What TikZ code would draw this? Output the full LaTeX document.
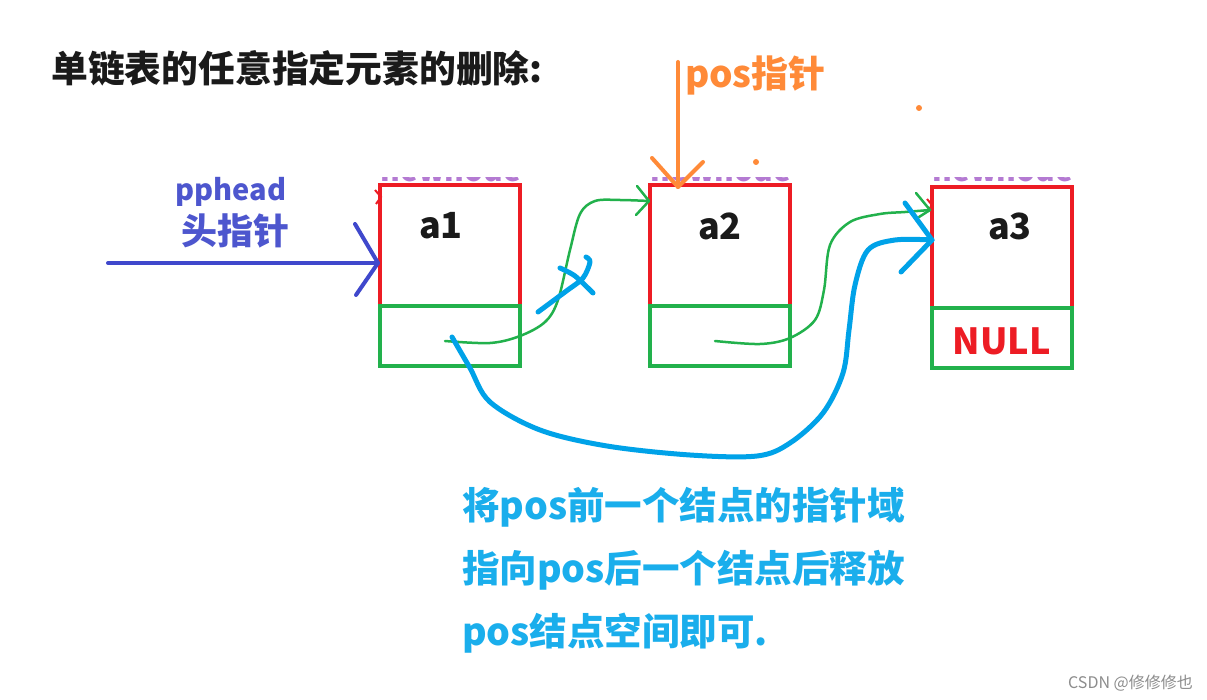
\documentclass[tikz,border=0pt]{standalone}
\usepackage{fontspec}
\setmainfont{Noto Sans CJK SC}
\definecolor{pred}{HTML}{ED1C24}
\definecolor{pgreen}{HTML}{22B14C}
\definecolor{pindigo}{HTML}{3F48CC}
\definecolor{pheadtxt}{HTML}{4D56CE}
\definecolor{pturq}{HTML}{00A2E8}
\definecolor{ptext}{HTML}{1AAEEC}
\definecolor{porange}{HTML}{FF8A38}
\definecolor{ppurple}{HTML}{B47AD2}
\definecolor{ptitle}{HTML}{1A1A1A}
\begin{document}
\begin{tikzpicture}[x=1pt,y=-1pt,
  redbox/.style={draw=pred,line width=4pt,fill=white,minimum width=140pt,minimum height=121pt,inner sep=0pt},
  greenbox/.style={draw=pgreen,line width=4pt,minimum width=140pt,minimum height=60pt,inner sep=0pt},
  val/.style={font=\bfseries\fontsize{36}{40}\selectfont,text=ptitle},
  greenline/.style={draw=pgreen,line width=2.5pt,line cap=round,line join=round},
  blueline/.style={draw=pturq,line width=5pt,line cap=round,line join=round},
  infotext/.style={anchor=west,text=ptext,font=\bfseries\fontsize{37.5}{40}\selectfont,inner sep=0pt}]
\useasboundingbox (0,0) rectangle (1207,700);
\fill[white] (0,0) rectangle (1207,700);

% title
\node[anchor=west,inner sep=0pt,text=ptitle,font=\bfseries\fontsize{36.8}{40}\selectfont] (title) at (51,68) {单链表的任意指定元素的删除:};

% clipped purple labels behind boxes
\begin{scope}
  \clip (378,178) rectangle (1076,186);
  \foreach \cx in {451,721,1003}
    \node[text=ppurple,font=\bfseries\fontsize{30}{32}\selectfont] at (\cx,170) {newnode};
\end{scope}

% boxes
\node[redbox] (d1) at (450,245.5) {};
\node[greenbox] (p1) at (450,336) {};
\node[redbox] (d2) at (720,245.5) {};
\node[greenbox] (p2) at (720,336) {};
\node[redbox] (d3) at (1002,247.5) {};
\node[greenbox] (p3) at (1002,338) {};

\node[val] (a1) at (441,226) {a1};
\node[val] (a2) at (720,226) {a2};
\node[val] (a3) at (1010,226) {a3};
\node[text=pred,font=\bfseries\fontsize{36}{40}\selectfont] (null) at (1002,341) {NULL};

% small red marks
\draw[pred,line width=2pt] (375,190) -- (381,197) -- (376,204);
\draw[pred,line width=2pt] (927,199) -- (932,205) -- (928,211);

% head pointer
\node[text=pheadtxt,font=\bfseries\fontsize{29}{30}\selectfont,inner sep=0pt] (pph) at (231,192) {pphead};
\node[text=pheadtxt,font=\bfseries\fontsize{36}{40}\selectfont,inner sep=0pt] (hp) at (235,231) {头指针};
\coordinate (hs) at (108,263);
\coordinate (ht) at (378,263);
\draw[pindigo,line width=4pt,line cap=round] (hs) -- (ht);
\draw[pindigo,line width=4pt,line cap=round,line join=round] (355,224) -- (ht) -- (356,295);

% pos pointer
\node[text=porange,font=\bfseries\fontsize{37}{40}\selectfont,inner sep=0pt,anchor=west] (pos) at (685,75) {pos指针};
\coordinate (ps) at (678,62);
\coordinate (pt) at (678,187);
\draw[porange,line width=4pt,line cap=round] (ps) -- (pt);
\draw[porange,line width=4pt,line cap=round,line join=round] (652,158) -- (pt) -- (703,162);
\fill[porange] (756,162) circle (3);
\fill[porange] (919,108) circle (3);

% green next pointers
\coordinate (g1s) at (445,341);
\coordinate (g1t) at (649,201);
\draw[greenline] plot[smooth,tension=0.55] coordinates {(g1s) (490,343) (520,336) (545,322) (558,300) (570,250) (580,214) (595,201) (620,200) (g1t)};
\draw[greenline] (637,186) -- (g1t) -- (636,215);

\coordinate (g2s) at (715,341);
\coordinate (g2t) at (930,210);
\draw[greenline] plot[smooth,tension=0.55] coordinates {(g2s) (760,344) (790,338) (815,320) (824,290) (830,245) (850,222) (880,214) (905,212) (g2t)};
\draw[greenline] (916,193) -- (g2t) -- (919,217);

% blue X
\draw[blueline] plot[smooth,tension=0.5] coordinates {(538,312) (565,292) (583,278) (590,262) (586,257)};
\draw[blueline] plot[smooth,tension=0.5] coordinates {(560,268) (575,276) (593,293)};

% new pointer (blue curve)
\coordinate (bs) at (452,337);
\coordinate (bt) at (932,240);
\draw[blueline] plot[smooth,tension=0.55] coordinates {(bs) (470,368) (490,402) (540,430) (607,446) (690,455) (757,456) (790,443) (823,413) (843,373) (849,330) (855,285) (868,250) (895,240) (bt)};
\draw[blueline] (905,203) -- (bt) -- (901,272);

% explanation
\node[infotext] (t1) at (462,507) {将pos前一个结点的指针域};
\node[infotext] (t2) at (462,570) {指向pos后一个结点后释放};
\node[infotext] (t3) at (462,633) {pos结点空间即可.};

% watermark
\node[anchor=east,text=black!45,font=\fontsize{16}{18}\selectfont,inner sep=0pt] (wm) at (1193,683) {CSDN @修修修也};
\end{tikzpicture}
\end{document}
